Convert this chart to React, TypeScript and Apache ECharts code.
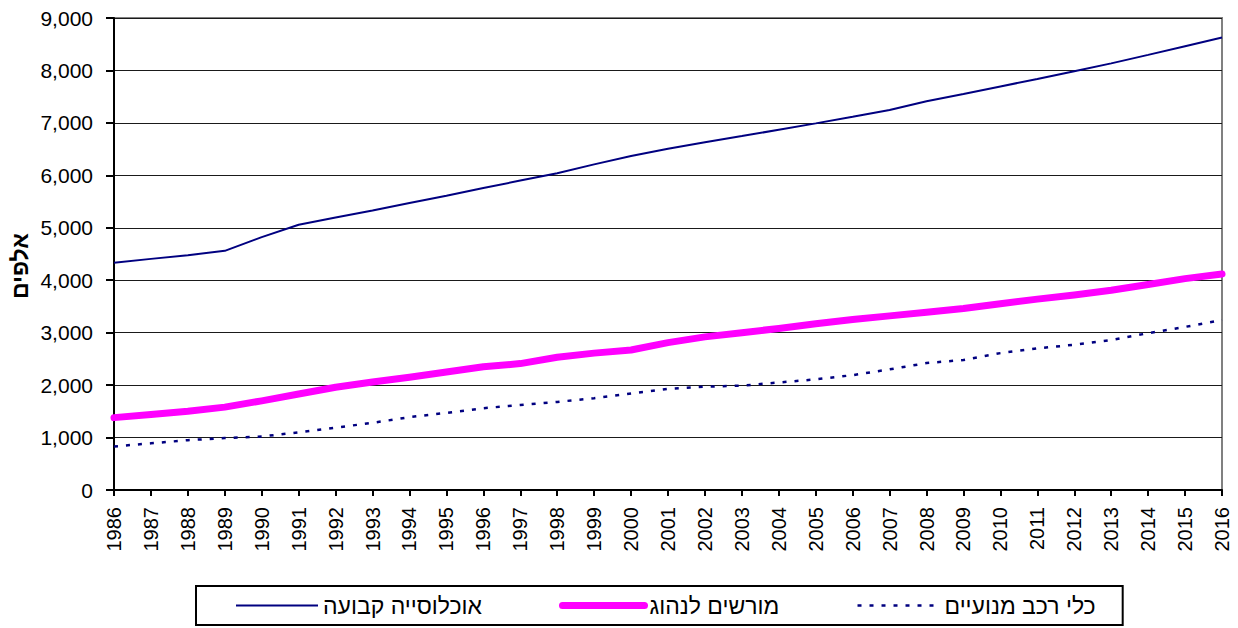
import React, { useEffect, useRef } from "react";
import * as echarts from "echarts";

const years = [
  "1986", "1987", "1988", "1989", "1990", "1991", "1992", "1993", "1994", "1995",
  "1996", "1997", "1998", "1999", "2000", "2001", "2002", "2003", "2004", "2005",
  "2006", "2007", "2008", "2009", "2010", "2011", "2012", "2013", "2014", "2015", "2016",
];

const population = [
  4331, 4407, 4477, 4560, 4822, 5059, 5196, 5328, 5472, 5612,
  5758, 5900, 6041, 6209, 6369, 6508, 6632, 6748, 6870, 6991,
  7116, 7244, 7412, 7552, 7695, 7837, 7984, 8135, 8297, 8463, 8628,
];

const licenses = [
  1380, 1440, 1500, 1580, 1700, 1830, 1960, 2060, 2150, 2250,
  2350, 2410, 2530, 2610, 2670, 2810, 2920, 3000, 3080, 3170,
  3250, 3320, 3390, 3460, 3550, 3640, 3720, 3810, 3920, 4030, 4120,
];

const vehicles = [
  830, 890, 950, 990, 1020, 1100, 1190, 1280, 1390, 1470,
  1560, 1620, 1680, 1750, 1840, 1930, 1970, 1990, 2050, 2110,
  2190, 2300, 2420, 2480, 2610, 2700, 2770, 2860, 2990, 3110, 3240,
];

const seriesNames = ["אוכלוסייה קבועה", "מורשים לנהוג", "כלי רכב מנועיים"];
const yAxisName = "אלפים";

const FONT = 'Arial, "Liberation Sans", sans-serif';

export default function App() {
  const ref = useRef<HTMLDivElement>(null);

  useEffect(() => {
    if (!ref.current) return;
    const chart = echarts.init(ref.current, undefined, { renderer: "svg" });
    chart.setOption({
      animation: false,
      backgroundColor: "#ffffff",
      textStyle: { fontFamily: FONT },
      grid: {
        left: 114,
        right: 16,
        top: 18,
        bottom: 138,
        containLabel: false,
        outerBoundsMode: "none",
        show: true,
        borderColor: "#808080",
        borderWidth: 2,
        backgroundColor: "transparent",
      },
      legend: {
        show: true,
        left: 196,
        top: 586,
        orient: "horizontal",
        padding: [8, 27, 8, 39],
        borderColor: "#000000",
        borderWidth: 2,
        itemWidth: 82,
        itemHeight: 14,
        itemGap: 77,
        itemStyle: { opacity: 0 },
        textStyle: { fontSize: 23, color: "#000000", fontFamily: FONT },
        data: [
          { name: seriesNames[0], lineStyle: { color: "#000080", width: 2 } },
          { name: seriesNames[1], lineStyle: { color: "#FF00FF", width: 7, cap: "round" } },
          { name: seriesNames[2], lineStyle: { color: "#000080", width: 2.5, type: [4, 8] } },
        ],
      },
      graphic: [
        {
          type: "text",
          x: 20,
          y: 266,
          rotation: Math.PI / 2,
          style: {
            text: yAxisName,
            font: `bold 23px ${FONT}`,
            fill: "#000000",
            align: "center",
            verticalAlign: "middle",
          },
        },
      ],
      xAxis: {
        type: "category",
        data: years,
        boundaryGap: false,
        axisLine: { show: true, lineStyle: { color: "#000000", width: 2 } },
        axisTick: { show: true, length: 6, lineStyle: { color: "#000000", width: 2 } },
        axisLabel: {
          rotate: 90,
          margin: 17,
          fontSize: 20,
          color: "#000000",
          fontFamily: FONT,
          interval: 0,
        },
        splitLine: { show: false },
      },
      yAxis: {
        type: "value",
        min: 0,
        max: 9000,
        interval: 1000,
        axisLine: { show: true, lineStyle: { color: "#000000", width: 2 } },
        axisTick: { show: true, length: 8, lineStyle: { color: "#000000", width: 2 } },
        axisLabel: {
          margin: 21,
          fontSize: 21,
          color: "#000000",
          fontFamily: FONT,
          formatter: (v: number) => v.toLocaleString("en-US"),
        },
        splitLine: { show: true, lineStyle: { color: "#1a1a1a", width: 1 } },
      },
      series: [
        {
          name: seriesNames[0],
          type: "line",
          data: population,
          symbol: "none",
          lineStyle: { color: "#000080", width: 2 },
          itemStyle: { color: "#000080" },
          z: 4,
        },
        {
          name: seriesNames[1],
          type: "line",
          data: licenses,
          symbol: "none",
          lineStyle: { color: "#FF00FF", width: 7, cap: "round", join: "round" },
          itemStyle: { color: "#FF00FF" },
          z: 3,
        },
        {
          name: seriesNames[2],
          type: "line",
          data: vehicles,
          symbol: "none",
          lineStyle: { color: "#000080", width: 2.5, type: [4, 8] },
          itemStyle: { color: "#000080" },
          z: 2,
        },
      ],
    });
    return () => chart.dispose();
  }, []);

  return <div ref={ref} style={{ width: 1238, height: 628, position: "absolute", left: 0, top: 0 }} />;
}
